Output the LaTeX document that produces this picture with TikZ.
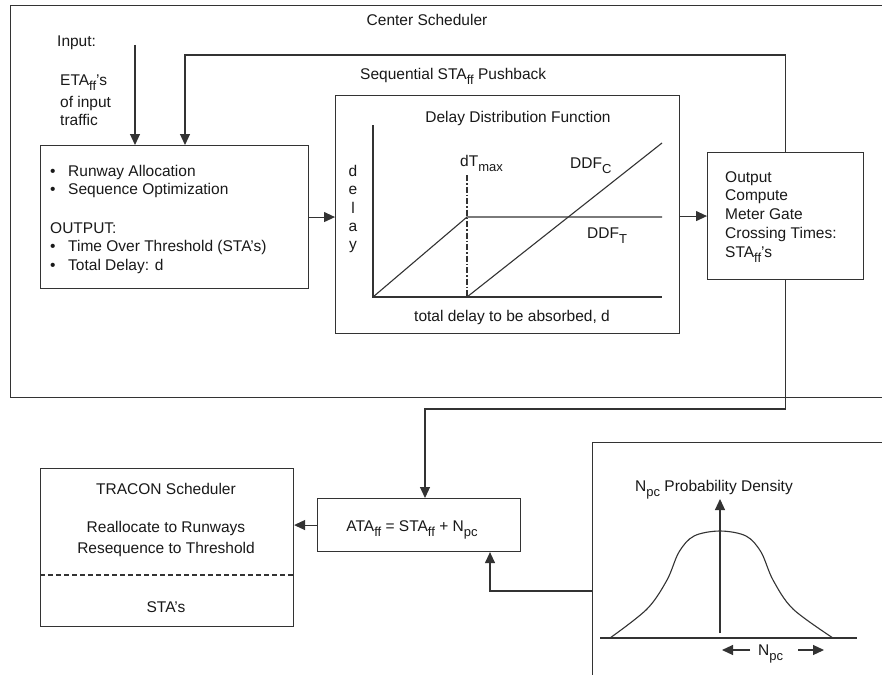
\documentclass[tikz,border=0pt]{standalone}
\usepackage{fontspec}
\setmainfont{Liberation Sans}
\usetikzlibrary{arrows.meta}
\newcommand{\sbx}[1]{\raisebox{-5pt}{\fontsize{13}{13}\selectfont #1}}
\begin{document}
\begin{tikzpicture}[x=1pt,y=-1pt,
  ln/.style={draw=black!80, line width=1.1pt},
  arr/.style={ln, -{Triangle[length=11pt,width=10pt]}},
  box/.style={ln, rectangle, inner sep=0pt, anchor=north west, fill=none},
  txt/.style={text=black!90, font=\fontsize{15.5}{18.5}\selectfont, inner sep=0pt},
  lt/.style={txt, anchor=base west},
  ct/.style={txt, anchor=base},
]
\useasboundingbox (0,0) rectangle (882,674);
\clip (0,0) rectangle (882,674);
\fill[white] (0,0) rectangle (882,674);

% boxes
\node[box, minimum width=885pt, minimum height=392pt] (center) at (10,5) {};
\node[box, minimum width=268pt, minimum height=143pt] (A) at (40,145) {};
\node[box, minimum width=344pt, minimum height=238pt] (ddf) at (335,95) {};
\node[box, minimum width=156pt, minimum height=127pt] (out) at (707,152) {};
\node[box, minimum width=253pt, minimum height=158pt] (tracon) at (40,468) {};
\node[box, minimum width=203pt, minimum height=53pt] (ata) at (317,498) {};
\node[box, minimum width=300pt, minimum height=250pt] (npc) at (592,442) {};

% texts: center scheduler
\node[txt] (tcs) at (427,20) {Center Scheduler};
\node[lt] (tin) at (57,47) {Input:};
\node[lt] (teta) at (60,86) {ETA\sbx{ff}’s};
\node[lt] (tof) at (60,107) {of input};
\node[lt] (ttr) at (60,125) {traffic};

% left box texts
\node[lt] (b1) at (50,176) {•};
\node[lt] (l1) at (68,176) {Runway Allocation};
\node[lt] (b2) at (50,194) {•};
\node[lt] (l2) at (68,194) {Sequence Optimization};
\node[lt] (l3) at (50,233) {OUTPUT:};
\node[lt] (b4) at (50,251) {•};
\node[lt] (l4) at (68,251) {Time Over Threshold (STA’s)};
\node[lt] (b5) at (50,270) {•};
\node[lt] (l5) at (68,270) {Total Delay: d};

% ddf box
\node[lt] (tseq) at (360,80) {Sequential STA\sbx{ff} Pushback};
\node[ct] (tddf) at (518,122) {Delay Distribution Function};
\node[txt, align=center, font=\fontsize{15.5}{18.3}\selectfont] (tdelay) at (353,209) {d\\e\\l\\a\\y};
\node[ct] (ttot) at (512,321) {total delay to be absorbed, d};
\node[lt] (tdt) at (460,166) {dT\sbx{max}};
\node[lt] (tddfc) at (570,168) {DDF\sbx{C}};
\node[lt] (tddft) at (587,238) {DDF\sbx{T}};

\coordinate (O) at (373,297);
\coordinate (Ytop) at (373,125);
\coordinate (Xend) at (662,297);
\coordinate (K) at (467,217);
\coordinate (Kend) at (662,217);
\coordinate (Ktop) at (467,175);
\coordinate (K0) at (467,297);
\coordinate (Cend) at (662,143);
\draw[ln] (Ytop) -- (O) -- (Xend);
\draw[ln] (O) -- (K) -- (Kend);
\draw[ln] (K0) -- (Cend);
\draw[ln, dash pattern=on 6pt off 2pt on 1.5pt off 2pt] (Ktop) -- (K0);

% output box text
\node[lt] (o1) at (725,182) {Output};
\node[lt] (o2) at (725,200) {Compute};
\node[lt] (o3) at (725,219) {Meter Gate};
\node[lt] (o4) at (725,238) {Crossing Times:};
\node[lt] (o5) at (725,257) {STA\sbx{ff}’s};

% tracon text
\node[ct] (r1) at (166,494) {TRACON Scheduler};
\node[ct] (r2) at (166,532) {Reallocate to Runways};
\node[ct] (r3) at (166,553) {Resequence to Threshold};
\node[ct] (r4) at (166,612) {STA’s};
\coordinate (dl) at (40,575);
\coordinate (dr) at (293,575);
\draw[ln, dash pattern=on 5pt off 3pt] (dl) -- (dr);

% ata text
\node[ct] (ta) at (412,531) {ATA\sbx{ff} = STA\sbx{ff} + N\sbx{pc}};

% npc box
\node[lt] (tnpc) at (635,491) {N\sbx{pc} Probability Density};
\coordinate (P0) at (720,633);
\coordinate (P1) at (720,499);
\draw[arr] (P0) -- (P1);
\coordinate (B0) at (600,638);
\coordinate (B1) at (857,638);
\draw[ln] (B0) -- (B1);
\draw[ln] plot[smooth, tension=0.55] coordinates {(610,638) (647,609) (667,580) (679,552) (694,536) (720,531) (746,536) (761,552) (773,580) (793,609) (833,638)};
\node[lt] (tnpc2) at (758,655) {N\sbx{pc}};
\coordinate (la0) at (750,650);
\coordinate (la1) at (722,650);
\coordinate (ra0) at (798,650);
\coordinate (ra1) at (824,650);
\draw[arr] (la0) -- (la1);
\draw[arr] (ra0) -- (ra1);

% connectors
\coordinate (inTop) at (135,45);
\draw[arr] (inTop) -- (inTop |- A.north);
\coordinate (fb) at (185,55);
\draw[arr] (out.north) |- (fb) -- (fb |- A.north);
\draw[arr] (A.east) -- (A.east -| ddf.west);
\draw[arr] (out.west -| ddf.east) -- (out.west);
\coordinate (c1) at (425,409);
\draw[arr] (out.south) |- (c1) -- (c1 |- ata.north);
\draw[arr] (ata.west) -- (ata.west -| tracon.east);
\coordinate (c2) at (490,591);
\draw[arr] (npc.west |- c2) -| (c2 |- ata.south);
\end{tikzpicture}
\end{document}
